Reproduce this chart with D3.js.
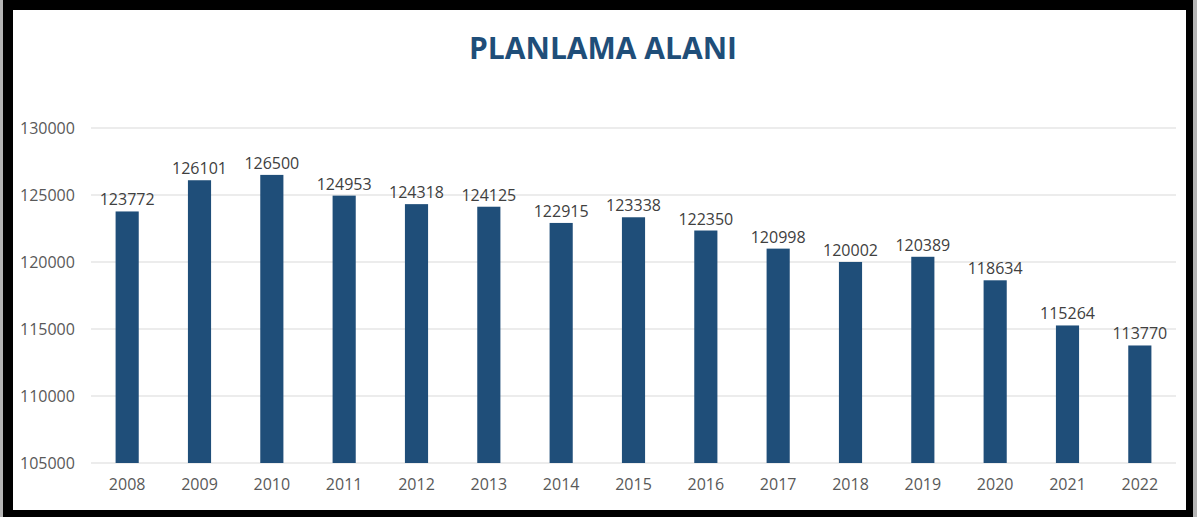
<!DOCTYPE html>
<html>
<head>
<meta charset="utf-8">
<script src="https://cdn.jsdelivr.net/npm/d3@7"></script>
<style>
  body { margin: 0; background: #fff; }
  svg { display: block; }
</style>
</head>
<body>
<svg></svg>
<script>
const years = ["2008", "2009", "2010", "2011", "2012", "2013", "2014", "2015",
  "2016", "2017", "2018", "2019", "2020", "2021", "2022"];
const values = [123772, 126101, 126500, 124953, 124318, 124125, 122915, 123338,
  122350, 120998, 120002, 120389, 118634, 115264, 113770];
const yTicks = [105000, 110000, 115000, 120000, 125000, 130000];
const title = "PLANLAMA ALANI";

const drawChart = () => {
  const svg = d3.select("svg").attr("width", 1197).attr("height", 517);

  // frame
  svg.append("rect").attr("width", 1197).attr("height", 517).attr("fill", "#b5b5b5");
  svg.append("rect").attr("x", 3).attr("y", 0).attr("width", 1190).attr("height", 517).attr("fill", "#000");
  svg.append("rect").attr("x", 13).attr("y", 10).attr("width", 1173).attr("height", 500).attr("fill", "#fff");

  const margin = { top: 128, left: 91, right: 1176, bottom: 463 };

  const xScale = d3.scaleBand()
    .domain(years)
    .range([margin.left, margin.right])
    .paddingInner(0.68)
    .paddingOuter(0.34);

  const yScale = d3.scaleLinear()
    .domain([105000, 130000])
    .range([margin.bottom, margin.top]);

  // gridlines
  svg.append("g")
    .selectAll("line")
    .data(yTicks)
    .enter()
    .append("line")
    .attr("x1", margin.left)
    .attr("x2", margin.right)
    .attr("y1", (d) => yScale(d))
    .attr("y2", (d) => yScale(d))
    .attr("stroke", "#d9d9d9")
    .attr("stroke-width", 1);

  // y labels
  const yAxis = d3.axisLeft(yScale).tickValues(yTicks).tickSize(0).tickPadding(0)
    .tickFormat(d3.format("d"));
  const gy = svg.append("g").attr("transform", "translate(20,0)").call(yAxis);
  gy.select(".domain").remove();
  gy.selectAll("text")
    .attr("text-anchor", "start")
    .attr("fill", "#595959")
    .style("font-family", "'Open Sans', sans-serif")
    .style("font-size", "16px");

  // x labels
  const xAxis = d3.axisBottom(xScale).tickSize(0).tickPadding(16);
  const gx = svg.append("g").attr("transform", `translate(0, ${margin.bottom})`).call(xAxis);
  gx.select(".domain").remove();
  gx.selectAll("text")
    .attr("fill", "#595959")
    .style("font-family", "'Open Sans', sans-serif")
    .style("font-size", "16px");

  // bars
  svg.append("g")
    .selectAll("rect")
    .data(values)
    .enter()
    .append("rect")
    .attr("x", (d, i) => xScale(years[i]))
    .attr("y", (d) => yScale(d))
    .attr("width", xScale.bandwidth())
    .attr("height", (d) => margin.bottom - yScale(d))
    .attr("fill", "#1f4e79");

  // data labels
  svg.append("g")
    .selectAll("text")
    .data(values)
    .enter()
    .append("text")
    .attr("x", (d, i) => xScale(years[i]) + xScale.bandwidth() / 2)
    .attr("y", (d) => yScale(d) - 6)
    .attr("text-anchor", "middle")
    .attr("fill", "#404040")
    .style("font-family", "'Open Sans', sans-serif")
    .style("font-size", "16px")
    .text((d) => d);

  // title
  svg.append("text")
    .attr("x", 603)
    .attr("y", 59)
    .attr("text-anchor", "middle")
    .attr("fill", "#1f4e79")
    .style("font-family", "'Open Sans', sans-serif")
    .style("font-weight", "bold")
    .style("font-size", "30px")
    .text(title);
};

drawChart();
</script>
</body>
</html>
